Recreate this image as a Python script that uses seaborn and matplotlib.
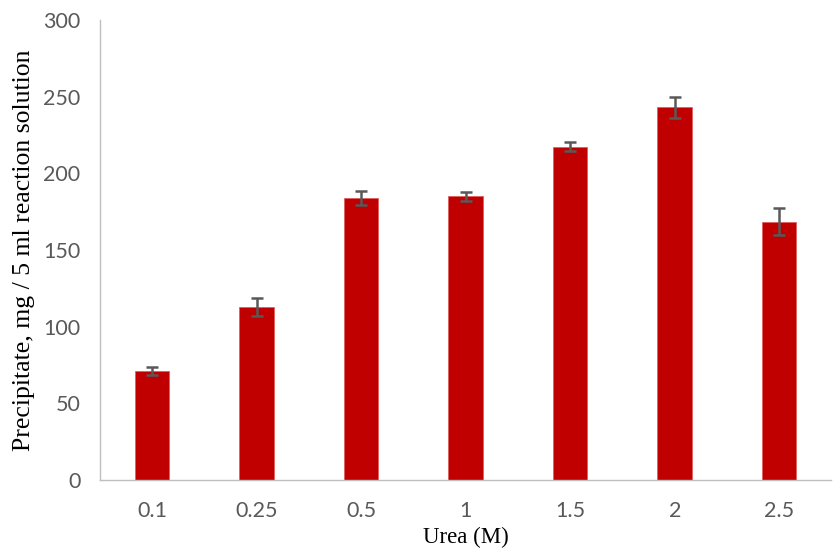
import matplotlib
matplotlib.use("Agg")
import matplotlib.pyplot as plt
import seaborn as sns
import pandas as pd

categories = ["0.1", "0.25", "0.5", "1", "1.5", "2", "2.5"]
values = [71, 113, 184, 185, 217.5, 243, 168.5]
errors = [2.5, 6, 4.5, 3, 3, 7, 9]
yticks = [0, 50, 100, 150, 200, 250, 300]

df = pd.DataFrame({"Urea": categories, "Precipitate": values})

sns.set_theme(style="white")
fig = plt.figure(figsize=(8.36, 5.48), dpi=100)
ax = fig.add_axes([0.1196, 0.124, 0.875, 0.8395])

sns.barplot(data=df, x="Urea", y="Precipitate", color="#C00000", saturation=1,
            width=0.33, errorbar=None, ax=ax, edgecolor="#E06060", linewidth=0.6)
xs = [p.get_x() + p.get_width() / 2 for p in ax.patches]
ax.errorbar(xs, values, yerr=errors, fmt="none", ecolor="#595959",
            elinewidth=1.8, capsize=4.5, capthick=1.8, zorder=5)

ax.set_ylim(0, 300)
ax.set_xlim(-0.5, 6.5)
ax.set_yticks(yticks)
ax.tick_params(axis="both", length=0, colors="#595959", labelsize=15.5)
for lab in ax.get_xticklabels() + ax.get_yticklabels():
    lab.set_fontfamily("Lato")
ax.tick_params(axis="y", pad=14)
ax.tick_params(axis="x", pad=15)

for s in ["top", "right"]:
    ax.spines[s].set_visible(False)
for s in ["left", "bottom"]:
    ax.spines[s].set_color("#BFBFBF")
    ax.spines[s].set_linewidth(1)

ax.set_xlabel("Urea (M)", fontfamily="Liberation Serif", fontsize=16.5, color="black", labelpad=4)
ax.set_ylabel("Precipitate, mg / 5 ml reaction solution", fontfamily="Liberation Serif",
              fontsize=18.5, color="black", labelpad=6)

fig.savefig("out.png", dpi=100)
